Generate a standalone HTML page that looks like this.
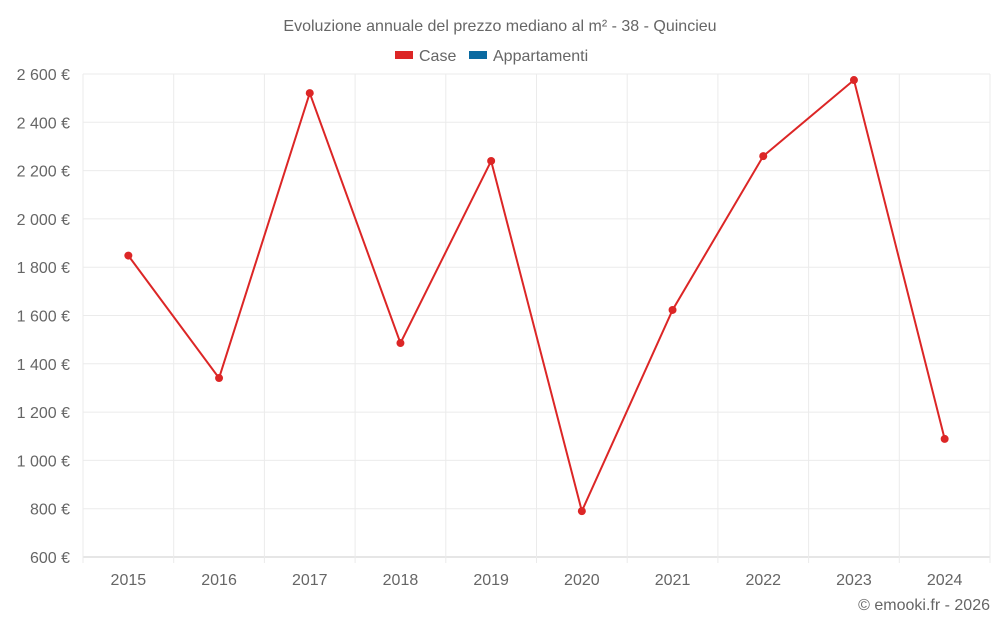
<!DOCTYPE html>
<html><head><meta charset="utf-8"><style>
body{margin:0;background:#fff;font-family:"Liberation Sans",sans-serif;}
svg text{font-family:"Liberation Sans",sans-serif;fill:#666;}
</style></head><body>
<svg id="c" width="1000" height="625">
<text x="500" y="31" text-anchor="middle" font-size="16">Evoluzione annuale del prezzo mediano al m² - 38 - Quincieu</text>
<g>
<g><rect x="395" y="51" width="18" height="8" fill="#dc2626"/><text x="419" y="61" font-size="16">Case</text></g>
<g><rect x="469" y="51" width="18" height="8" fill="#0a6aa1"/><text x="493" y="61" font-size="16">Appartamenti</text></g>
</g>
<g id="grid"></g><g id="axes"></g><g id="series"></g>
<text x="990" y="610" text-anchor="end" font-size="16">© emooki.fr - 2026</text>
</svg>
<script>
const years=["2015","2016","2017","2018","2019","2020","2021","2022","2023","2024"];
const casePrices=[1848,1341,2521,1486,2240,790,1623,2260,2575,1089];
const yTicks=[600,800,1000,1200,1400,1600,1800,2000,2200,2400,2600];
const L=83,R=990,T=74,B=557,yMin=600,yMax=2600;
const ns="http://www.w3.org/2000/svg";
const bw=(R-L)/years.length;
const x=i=>L+bw*(i+0.5);
const y=v=>B-(v-yMin)/(yMax-yMin)*(B-T);
function mk(t,a,p){const e=document.createElementNS(ns,t);for(const k in a)e.setAttribute(k,a[k]);p.appendChild(e);return e;}
const g=document.getElementById('grid'),ax=document.getElementById('axes'),s=document.getElementById('series');
yTicks.forEach(v=>{
 const l=mk('line',{x1:L,x2:R,y1:y(v),y2:y(v),stroke:v===yMin?'#ccc':'#ebebeb'},g);
 
 
 const t=mk('text',{x:70,y:y(v)+6,'text-anchor':'end','font-size':16},ax);
 t.textContent=v.toLocaleString('fr-FR').replace(/\u202f|\u00a0/g,' ')+' €';
 
 
});
for(let i=0;i<=years.length;i++){
 const l=mk('line',{x1:L+bw*i,x2:L+bw*i,y1:T,y2:B+(i<years.length||1?6:0),stroke:'#ebebeb'},g);
 
 
}
years.forEach((yr,i)=>{
 const t=mk('text',{x:x(i),y:585,'text-anchor':'middle','font-size':16},ax);
 t.textContent=yr;
 
 
});
const p=mk('polyline',{points:casePrices.map((v,i)=>x(i)+','+y(v)).join(' '),fill:'none',stroke:'#dc2626','stroke-width':2},s);


casePrices.forEach((v,i)=>{
 const c=mk('circle',{cx:x(i),cy:y(v),r:4,fill:'#dc2626'},s);
 
 
});
</script>
</body></html>
